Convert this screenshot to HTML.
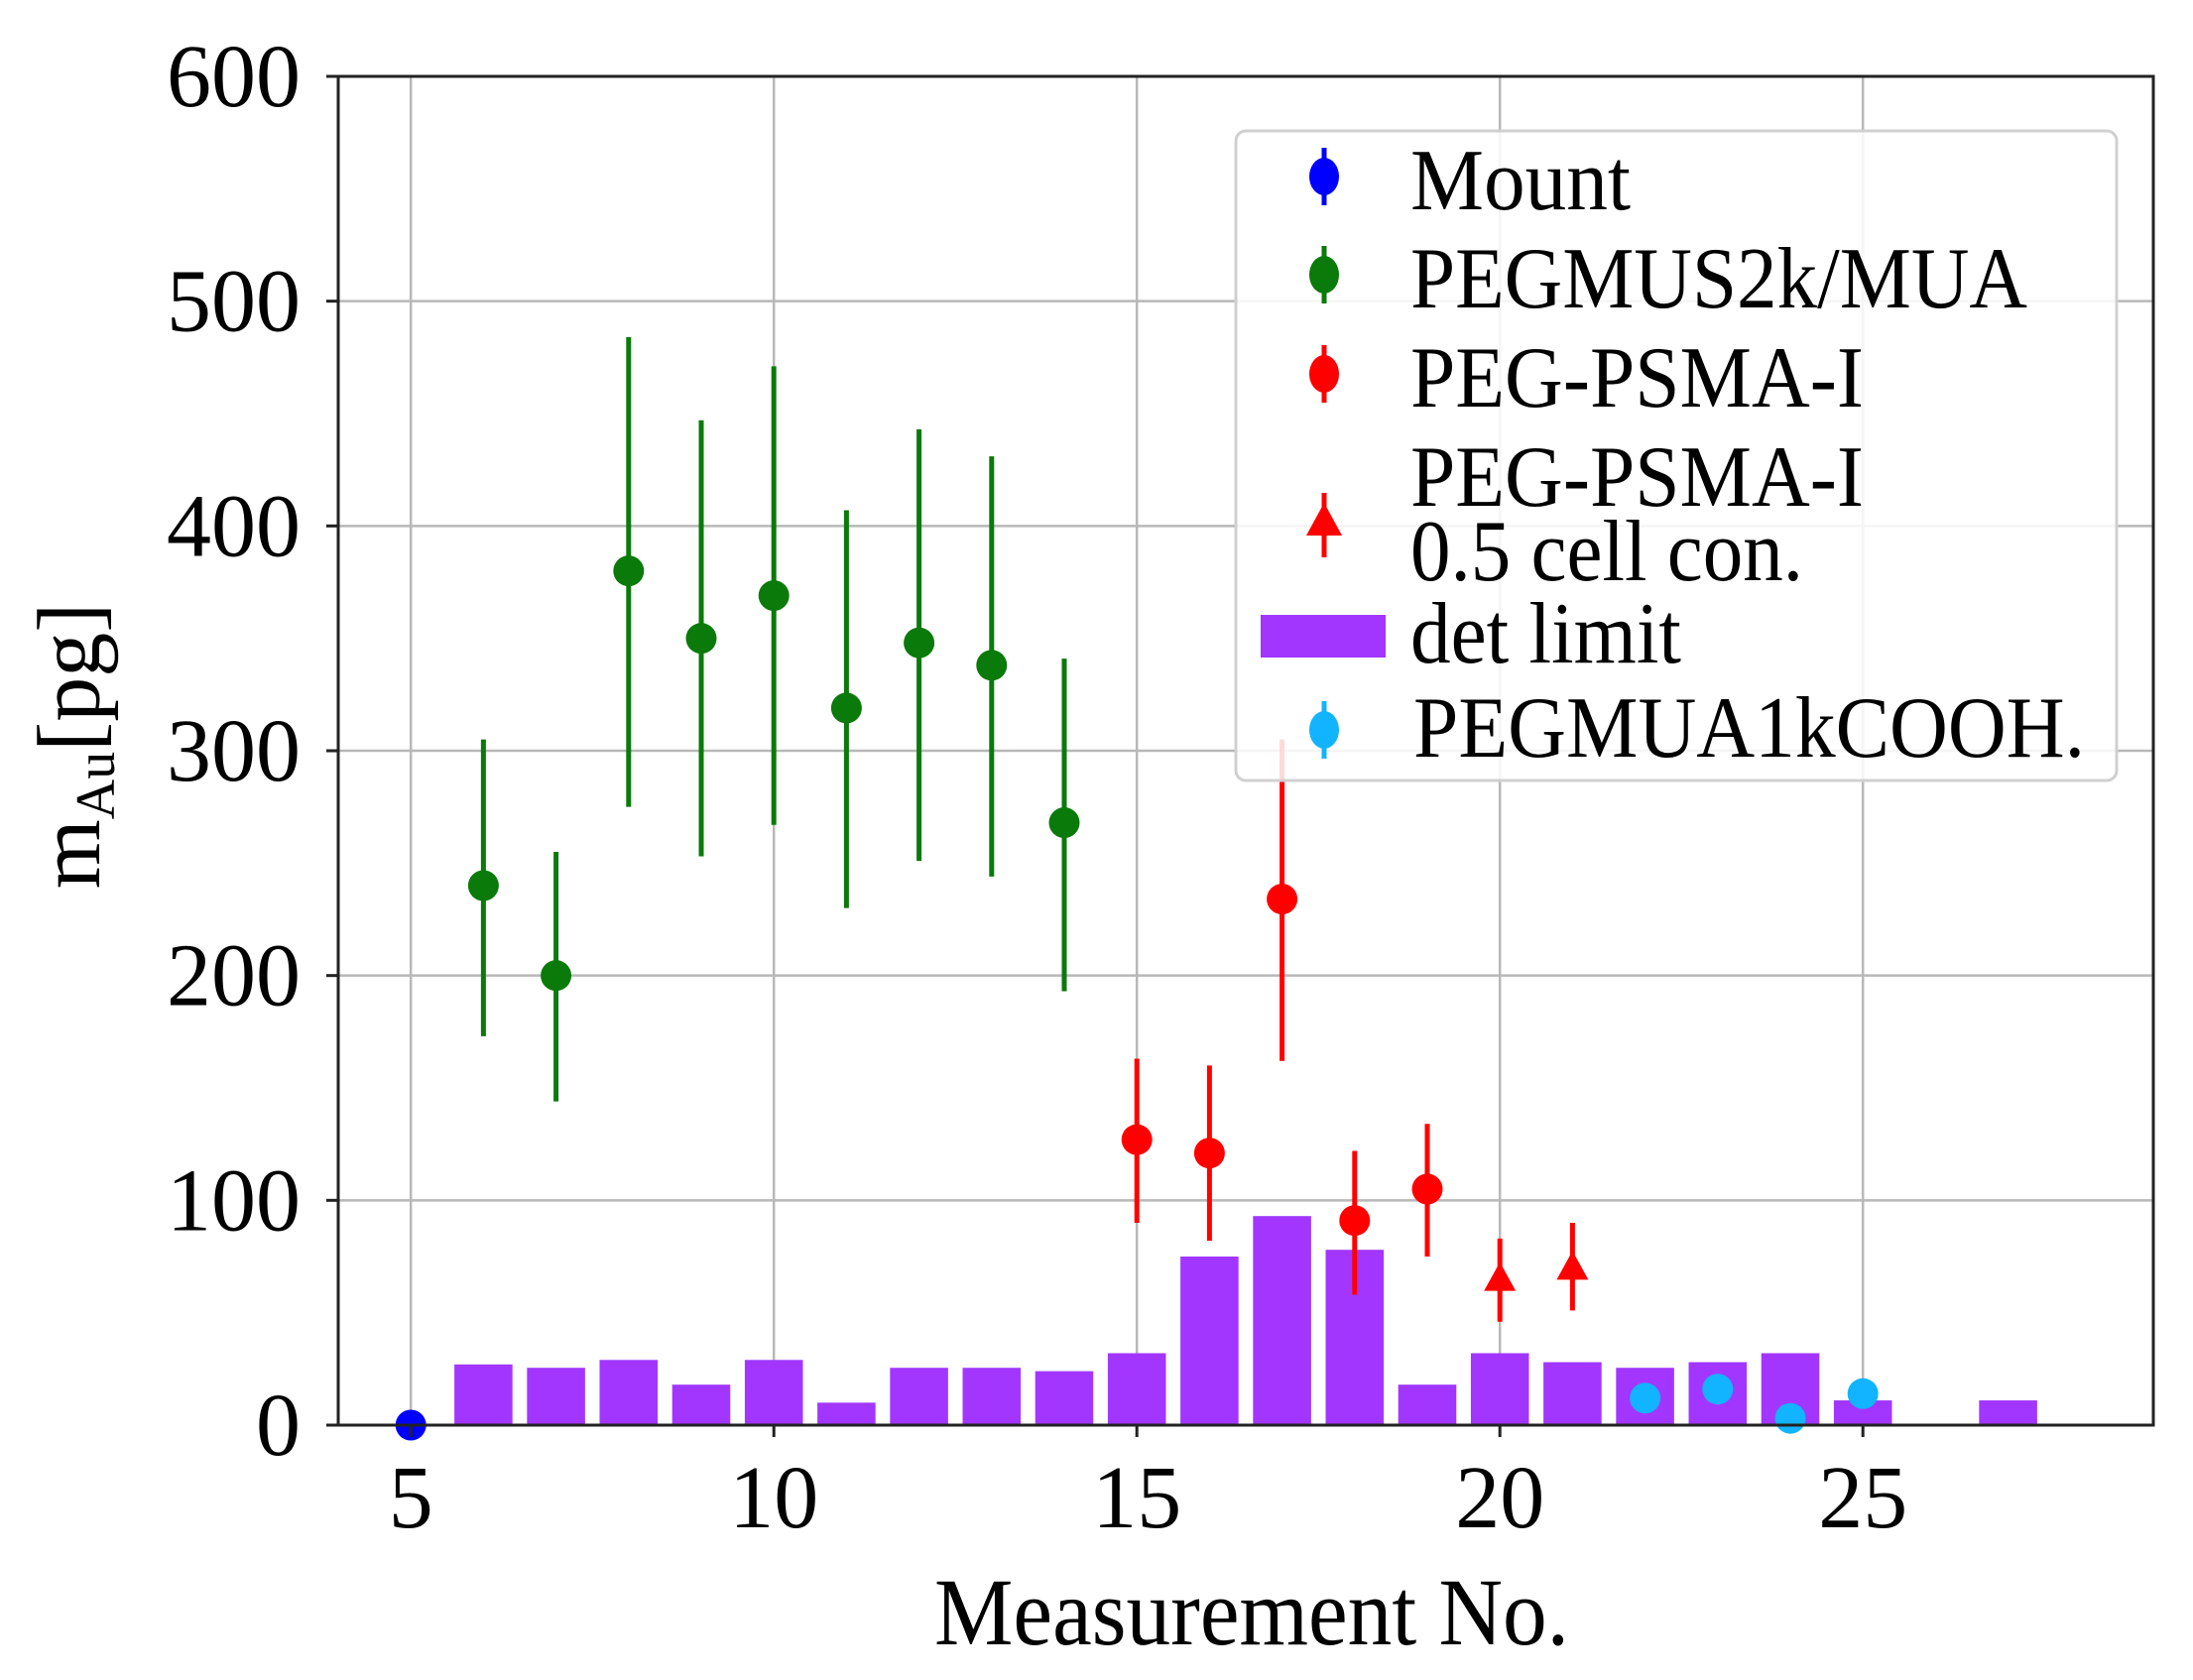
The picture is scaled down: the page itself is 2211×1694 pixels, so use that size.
<!DOCTYPE html>
<html><head><meta charset="utf-8"><style>html,body{margin:0;padding:0;background:#fff}svg{display:block}text{font-family:"Liberation Serif",serif;fill:#000}</style></head>
<body>
<svg id="chart" width="2211" height="1694" viewBox="0 0 2211 1694" xmlns="http://www.w3.org/2000/svg">
<g id="grid"></g>
<g id="bars"></g>
<g id="points"></g>
<g id="axes"></g>
<text x="1262" y="1658" font-size="96" text-anchor="middle" textLength="640" lengthAdjust="spacingAndGlyphs">Measurement No.</text>
<text transform="translate(100,752) rotate(-90)" font-size="90" text-anchor="middle">m<tspan font-size="56" dy="15">Au</tspan><tspan dy="-15">[pg]</tspan></text>
<g id="legend"></g>
</svg>
<script>
const barX = [6,7,8,9,10,11,12,13,14,15,16,17,18,19,20,21,22,23,24,25,27];
const barVals = [27,25.5,29,18,29,10,25.5,25.5,24,32,75,93,78,18,32,28,25.5,28,32,11,11];
const mountX = [5];
const mountY = [0];
const greenX = [6,7,8,9,10,11,12,13,14];
const greenY = [240,200,380,350,369,319,348,338,268];
const greenLo = [173,144,275,253,267,230,251,244,193];
const greenHi = [305,255,484,447,471,407,443,431,341];
const redX = [15,16,17,18,19];
const redY = [127,121,234,91,105];
const redLo = [90,82,162,58,75];
const redHi = [163,160,305,122,134];
const triX = [20,21];
const triY = [65,70];
const triLo = [46,51];
const triHi = [83,90];
const cyanX = [22,23,24,25];
const cyanY = [12,16,3,14];
const cyanLo = [10,10,2,12];
const cyanHi = [14,22,4,16];
const xTicks = [5,10,15,20,25];
const yTicks = [0,100,200,300,400,500,600];

const L=341,R=2171,T=77,B=1437;
const X0=4,X1=29,Y0=0,Y1=600;
const sx=v=>L+(v-X0)/(X1-X0)*(R-L);
const sy=v=>B-(v-Y0)/(Y1-Y0)*(B-T);
const NS="http://www.w3.org/2000/svg";
function mk(tag,attrs,parent){const e=document.createElementNS(NS,tag);for(const k in attrs)e.setAttribute(k,attrs[k]);parent.appendChild(e);return e;}
const grid=document.getElementById('grid'),bars=document.getElementById('bars'),pts=document.getElementById('points'),axes=document.getElementById('axes'),leg=document.getElementById('legend');

xTicks.forEach(v=>{
  const g=mk('line',{x1:sx(v),x2:sx(v),y1:T,y2:B,stroke:'#b8b8b8','stroke-width':2.5},grid);
  
  
  const t=mk('line',{x1:sx(v),x2:sx(v),y1:B,y2:B+12,stroke:'#222','stroke-width':3},axes);
  
  
  const l=mk('text',{x:sx(v),y:1540,'font-size':90,'text-anchor':'middle'},axes);
  l.textContent=v;
  
  
});
yTicks.forEach(v=>{
  const g=mk('line',{x1:L,x2:R,y1:sy(v),y2:sy(v),stroke:'#b8b8b8','stroke-width':2.5},grid);
  
  
  const t=mk('line',{x1:L-12,x2:L,y1:sy(v),y2:sy(v),stroke:'#222','stroke-width':3},axes);
  
  
  const l=mk('text',{x:303,y:sy(v)+30,'font-size':90,'text-anchor':'end'},axes);
  l.textContent=v;
  
  
});
const frame=mk('rect',{x:L,y:T,width:R-L,height:B-T,fill:'none',stroke:'#222','stroke-width':3},axes);



const bw=(R-L)/(X1-X0)*0.8;
barX.forEach((x,i)=>{
  const b=mk('rect',{x:sx(x)-bw/2,y:sy(barVals[i]),width:bw,height:sy(0)-sy(barVals[i]),fill:'#a236ff'},bars);
  
  
});
function series(xs,ys,lo,hi,color,shape,name){
  xs.forEach((x,i)=>{
    if(lo){const e=mk('line',{x1:sx(x),x2:sx(x),y1:sy(lo[i]),y2:sy(hi[i]),stroke:color,'stroke-width':5},pts);
      
      }
    let m;
    const cx=sx(x),cy=sy(ys[i]);
    if(shape==='tri') m=mk('polygon',{points:`${cx},${cy-17} ${cx+16},${cy+12} ${cx-16},${cy+12}`,fill:color},pts);
    else m=mk('circle',{cx:cx,cy:cy,r:15.5,fill:color},pts);
    
    
  });
}
series(mountX,mountY,null,null,'#0000ff','circle','mount');
series(greenX,greenY,greenLo,greenHi,'#0a7a0a','circle','pegmus2k-mua');
series(redX,redY,redLo,redHi,'#ff0000','circle','peg-psma-i');
series(triX,triY,triLo,triHi,'#ff0000','tri','peg-psma-i-half');
series(cyanX,cyanY,cyanLo,cyanHi,'#12b4ff','circle','pegmua1kcooh');
// legend
const MX=1335, TX=1422;
const box=mk('rect',{x:1246,y:132,width:888,height:655,rx:10,fill:'#fff','fill-opacity':0.85,stroke:'#d0d0d0','stroke-width':3},leg);


const entries=[
 {t:'Mount',c:'#0000ff',y:211,w:222},
 {t:'PEGMUS2k/MUA',c:'#0a7a0a',y:310,w:622},
 {t:'PEG-PSMA-I',c:'#ff0000',y:410,w:457},
];
entries.forEach(en=>{
  const g=mk('g',{},leg);
  
  
  mk('line',{x1:MX,x2:MX,y1:en.y-62,y2:en.y-4,stroke:en.c,'stroke-width':5},g);
  mk('ellipse',{cx:MX,cy:en.y-33,rx:15,ry:19,fill:en.c},g);
  const t=mk('text',{x:TX,y:en.y,'font-size':88,textLength:en.w,lengthAdjust:'spacingAndGlyphs'},g);
  t.textContent=en.t;
});
{
  const g=mk('g',{},leg);
  
  
  mk('line',{x1:MX,x2:MX,y1:497,y2:562,stroke:'#ff0000','stroke-width':5},g);
  mk('polygon',{points:`${MX},507 ${MX+18},540 ${MX-18},540`,fill:'#ff0000'},g);
  const t1=mk('text',{x:TX,y:510,'font-size':88,textLength:457,lengthAdjust:'spacingAndGlyphs'},g);
  t1.textContent='PEG-PSMA-I';
  const t2=mk('text',{x:TX,y:585,'font-size':88,textLength:396,lengthAdjust:'spacingAndGlyphs'},g);
  t2.textContent='0.5 cell con.';
}
{
  const g=mk('g',{},leg);
  
  
  mk('rect',{x:1271,y:620,width:126,height:43,fill:'#a236ff'},g);
  const t=mk('text',{x:TX,y:668,'font-size':88,textLength:273,lengthAdjust:'spacingAndGlyphs'},g);
  t.textContent='det limit';
}
{
  const g=mk('g',{},leg);
  
  
  mk('line',{x1:MX,x2:MX,y1:707,y2:765,stroke:'#12b4ff','stroke-width':5},g);
  mk('ellipse',{cx:MX,cy:736,rx:15,ry:19,fill:'#12b4ff'},g);
  const t=mk('text',{x:TX+3,y:763,'font-size':88,textLength:677,lengthAdjust:'spacingAndGlyphs'},g);
  t.textContent='PEGMUA1kCOOH.';
}
</script>
</body></html>
